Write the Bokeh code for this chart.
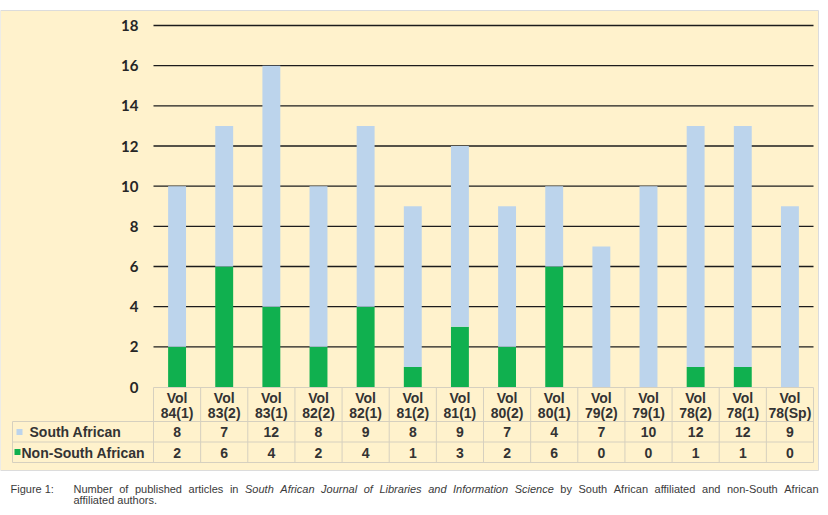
from bokeh.plotting import figure
from bokeh.models import Range1d, ColumnDataSource
from bokeh.core.properties import value
from bokeh.embed import file_html
from bokeh.resources import INLINE

# ---------------- data ----------------
volumes = ["Vol 84(1)", "Vol 83(2)", "Vol 83(1)", "Vol 82(2)", "Vol 82(1)", "Vol 81(2)",
           "Vol 81(1)", "Vol 80(2)", "Vol 80(1)", "Vol 79(2)", "Vol 79(1)", "Vol 78(2)",
           "Vol 78(1)", "Vol 78(Sp)"]
south_african = [8, 7, 12, 8, 9, 8, 9, 7, 4, 7, 10, 12, 12, 9]
non_south_african = [2, 6, 4, 2, 4, 1, 3, 2, 6, 0, 0, 1, 1, 0]
series_names = ["South African", "Non-South African"]
y_ticks = [0, 2, 4, 6, 8, 10, 12, 14, 16, 18]
caption_label = "Figure 1:"
caption_line1 = ("Number of published articles in South African Journal of Libraries "
                 "and Information Science by South African affiliated and non-South African")
caption_italic = "South African Journal of Libraries and Information Science"
caption_line2 = "affiliated authors."

# ---------------- layout ----------------
W, H = 822, 512
PAGE_L, PAGE_T = 0, 0
COL0 = 153.0
N = len(volumes)
COLW = 660.0 / N
Y0 = 386.5
YU = 361.5 / 18.0

def dx(px):
    return (px - COL0) / COLW

def dy(py):
    return (Y0 - py) / YU

BLUE = "#bcd4ec"
GREEN = "#10b04f"
PANEL = "#fff2cc"
TABLE_LINE = "#d6d0bf"

p = figure(width=W, height=H, title=None,
           x_range=Range1d(dx(PAGE_L), dx(PAGE_L + W)),
           y_range=Range1d(dy(PAGE_T + H), dy(PAGE_T)),
           output_backend="svg", toolbar_location=None,
           x_axis_location=None, y_axis_location=None,
           min_border=0, background_fill_color="white",
           border_fill_color="white", outline_line_color=None)
p.grid.visible = False
p.extra_x_ranges = {"px": Range1d(PAGE_L, PAGE_L + W)}
p.extra_y_ranges = {"px": Range1d(PAGE_T + H, PAGE_T)}

# panel background
p.quad(left=[0], right=[818], top=[10], bottom=[470], fill_color=PANEL,
       line_color="#dcdcdc", line_width=1, x_range_name="px", y_range_name="px")

# grid lines (skip zero; zero is the table top line)
grid_vals = [t for t in y_ticks if t > 0]
p.segment(x0=[0] * len(grid_vals), x1=[N] * len(grid_vals), y0=grid_vals, y1=grid_vals,
          line_color="#1c1c1c", line_width=1.4)

# y tick labels
p.text(x=[dx(138)] * len(y_ticks), y=y_ticks, text=[str(t) for t in y_ticks],
       text_align="right", text_baseline="middle", text_font=value("Lato"),
       text_font_style="bold", text_font_size="15px", text_color="#262626")

# stacked bars
xs = [i + 0.5 for i in range(N)]
tops = [a + b for a, b in zip(non_south_african, south_african)]
src = ColumnDataSource(dict(x=xs, nsa=non_south_african, tot=tops,
                            zero=[0] * N))
p.vbar(x="x", bottom="zero", top="nsa", width=0.38, source=src,
       fill_color=GREEN, line_color=None)
p.vbar(x="x", bottom="nsa", top="tot", width=0.38, source=src,
       fill_color=BLUE, line_color=None)

# ---------------- data table ----------------
row_lines_y = [421, 441.5, 462]
p.segment(x0=[0], x1=[N], y0=[387], y1=[387], line_color=TABLE_LINE,
          line_width=1, y_range_name="px")
p.segment(x0=[dx(12)] * 3, x1=[N] * 3, y0=row_lines_y, y1=row_lines_y,
          line_color=TABLE_LINE, line_width=1, y_range_name="px")
vx = list(range(N + 1))
p.segment(x0=vx, x1=vx, y0=[387] * len(vx), y1=[462] * len(vx),
          line_color=TABLE_LINE, line_width=1, y_range_name="px")
p.segment(x0=[dx(12)], x1=[dx(12)], y0=[421], y1=[462],
          line_color=TABLE_LINE, line_width=1, y_range_name="px")

hdr_top = [v.split(" ")[0] for v in volumes]
hdr_bot = [v.split(" ")[1] for v in volumes]
common = dict(text_align="center", text_baseline="middle",
              text_font=value("Liberation Sans"), text_font_style="bold",
              text_font_size="14px", text_color="#333333", y_range_name="px")
p.text(x=xs, y=[397] * N, text=hdr_top, **common)
p.text(x=xs, y=[412] * N, text=hdr_bot, **common)
p.text(x=xs, y=[431.5] * N, text=[str(v) for v in south_african], **common)
p.text(x=xs, y=[452] * N, text=[str(v) for v in non_south_african], **common)

# row labels with legend keys
p.rect(x=[19, 17], y=[431.5, 451.5], width=6, height=6,
       fill_color=[BLUE, GREEN], line_color=None,
       x_range_name="px", y_range_name="px")
lab = dict(text_align="left", text_baseline="middle",
           text_font=value("Liberation Sans"), text_font_style="bold",
           text_font_size="14px", text_color="#333333",
           x_range_name="px", y_range_name="px")
p.text(x=[29], y=[431.5], text=[series_names[0]], **lab)
p.text(x=[21], y=[452], text=[series_names[1]], **lab)

# ---------------- caption (justified, word by word) ----------------
ARIAL = {"N": 722, "m": 833, "S": 667, "A": 667, "J": 500, "L": 556, "I": 278,
         "F": 611, "f": 278, "r": 333, "l": 222, "i": 222, "t": 278, "j": 222,
         "s": 500, "c": 500, "y": 500, "k": 500, "v": 500, "x": 500, "z": 500,
         "-": 333, ":": 278, ".": 278, " ": 278}

def text_w(s, size):
    return sum(ARIAL.get(ch, 556) for ch in s) * size / 1000.0

CAP_SIZE = 11.0
CAP_L, CAP_R = 73.0, 818.0
words = caption_line1.split(" ")
widths = [text_w(w, CAP_SIZE) for w in words]
gap = (CAP_R - CAP_L - sum(widths)) / (len(words) - 1)
ital_start = caption_line1.split(" ").index("South")
ital_n = len(caption_italic.split(" "))
wx, cx = [], CAP_L
for w in widths:
    wx.append(cx)
    cx += w + gap
reg_idx = [i for i in range(len(words)) if not (ital_start <= i < ital_start + ital_n)]
ita_idx = [i for i in range(ital_start, ital_start + ital_n)]

cap = dict(text_baseline="middle", text_align="left",
           text_font=value("Liberation Sans"), text_font_size=f"{CAP_SIZE}px",
           text_color="#3a3a3a", x_range_name="px", y_range_name="px")
p.text(x=[10], y=[488], text=[caption_label], **cap)
p.text(x=[wx[i] for i in reg_idx], y=[488] * len(reg_idx),
       text=[words[i] for i in reg_idx], **cap)
p.text(x=[wx[i] for i in ita_idx], y=[488] * len(ita_idx),
       text=[words[i] for i in ita_idx], text_font_style="italic", **cap)
p.text(x=[CAP_L], y=[499], text=[caption_line2], **cap)

open("out.html", "w").write(file_html(p, INLINE))
